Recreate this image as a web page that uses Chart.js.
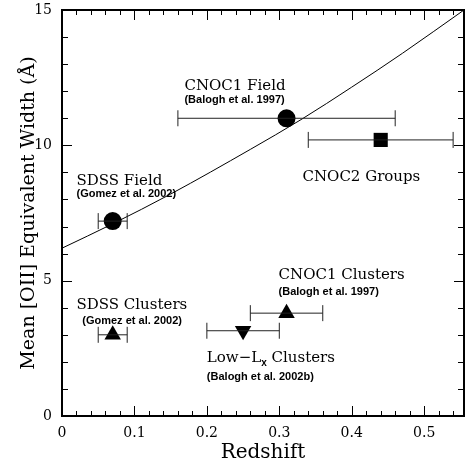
<!DOCTYPE html>
<html>
<head>
<meta charset="utf-8">
<script src="https://cdn.jsdelivr.net/npm/chart.js@4.4.0/dist/chart.umd.min.js"></script>
<style>
  html, body { margin: 0; padding: 0; background: #fff; }
  #wrap { width: 465px; height: 465px; }
</style>
</head>
<body>
<div id="wrap"><canvas id="chart" width="465" height="465"></canvas></div>
<script>
// samples plotted, in drawing order
const samples = ['SDSS Field', 'SDSS Clusters', 'Low-Lx Clusters', 'CNOC1 Clusters', 'CNOC1 Field', 'CNOC2 Groups'];
const redshift = [0.07, 0.07, 0.25, 0.31, 0.31, 0.44];
const zLow = [0.05, 0.05, 0.20, 0.26, 0.16, 0.34];
const zHigh = [0.09, 0.09, 0.30, 0.36, 0.46, 0.54];
const ewOII = [7.2, 3.0, 3.15, 3.8, 11.0, 10.2];
const markers = ['circle', 'triangle', 'triangle', 'triangle', 'circle', 'rect'];
const markerRot = [0, 0, 180, 0, 0, 0];
const markerSize = [9, 9.5, 9.5, 9.5, 9, 10];

// model curve
const curveZ = [0, 0.07, 0.15, 0.26, 0.33, 0.40, 0.47, 0.555];
const curveEW = [6.2, 7.1, 8.2, 9.85, 10.95, 12.15, 13.4, 15.0];

const xTicks = [0, 0.1, 0.2, 0.3, 0.4, 0.5];
const yTicks = [0, 5, 10, 15];

// labels: [text, x, y, kind]
const notes = [
  ['CNOC1 Field', 0.169, 12.17, 'big'],
  ['(Balogh et al. 1997)', 0.169, 11.69, 'small'],
  ['CNOC2 Groups', 0.332, 8.84, 'big'],
  ['SDSS Field', 0.02, 8.67, 'big'],
  ['(Gomez et al. 2002)', 0.02, 8.21, 'small'],
  ['SDSS Clusters', 0.02, 4.10, 'big'],
  ['(Gomez et al. 2002)', 0.028, 3.51, 'small'],
  ['CNOC1 Clusters', 0.299, 5.21, 'big'],
  ['(Balogh et al. 1997)', 0.299, 4.59, 'small'],
  ['Low-Lx Clusters', 0.2, 2.14, 'big'],
  ['(Balogh et al. 2002b)', 0.2, 1.44, 'small']
];

const serif = '"DejaVu Serif", serif';
const bigFont = '15px ' + serif;
const smallFont = 'bold 11px "Liberation Sans", Arial, sans-serif';

const frame = {
  id: 'frame',
  afterDatasetsDraw(chart) {
    const ctx = chart.ctx;
    const xs = chart.scales.x, ys = chart.scales.y;
    const a = chart.chartArea;

    // error bars
    ctx.save();
    ctx.strokeStyle = '#222';
    ctx.lineWidth = 1;
    for (let i = 0; i < redshift.length; i++) {
      const y = ys.getPixelForValue(ewOII[i]);
      const x1 = xs.getPixelForValue(zLow[i]);
      const x2 = xs.getPixelForValue(zHigh[i]);
      ctx.beginPath();
      ctx.moveTo(x1, y); ctx.lineTo(x2, y);
      ctx.moveTo(x1, y - 8); ctx.lineTo(x1, y + 8);
      ctx.moveTo(x2, y - 8); ctx.lineTo(x2, y + 8);
      ctx.stroke();
    }
    ctx.restore();

    // box and inward ticks
    ctx.save();
    ctx.strokeStyle = '#000';
    ctx.lineWidth = 2;
    ctx.strokeRect(a.left, a.top, a.right - a.left, a.bottom - a.top);
    ctx.lineWidth = 1;
    ctx.beginPath();
    for (let k = 0; k <= 27; k++) {
      const v = k * 0.02;
      const len = k % 5 === 0 ? 10 : 5;
      const x = Math.round(xs.getPixelForValue(v)) + 0.5;
      ctx.moveTo(x, a.bottom); ctx.lineTo(x, a.bottom - len);
      ctx.moveTo(x, a.top); ctx.lineTo(x, a.top + len);
    }
    for (let k = 0; k <= 15; k++) {
      const len = k % 5 === 0 ? 10 : 6;
      const y = Math.round(ys.getPixelForValue(k)) + 0.5;
      ctx.moveTo(a.left, y); ctx.lineTo(a.left + len, y);
      ctx.moveTo(a.right, y); ctx.lineTo(a.right - len, y);
    }
    ctx.stroke();
    ctx.restore();

    // text labels
    ctx.save();
    ctx.fillStyle = '#000';
    ctx.textBaseline = 'middle';
    ctx.textAlign = 'left';
    notes.forEach(n => {
      let x = xs.getPixelForValue(n[1]);
      const y = ys.getPixelForValue(n[2]);
      ctx.font = n[3] === 'big' ? bigFont : smallFont;
      if (n[0].indexOf('Low-Lx') === 0) {
        ctx.fillText('Low\u2212L', x, y);
        x += ctx.measureText('Low\u2212L').width;
        ctx.font = 'bold 10px "Liberation Sans", sans-serif';
        ctx.fillText('x', x, y + 5);
        x += ctx.measureText('x').width;
        ctx.font = bigFont;
        ctx.fillText(' Clusters', x, y);
      } else {
        ctx.fillText(n[0], x, y);
      }
    });
    ctx.restore();
  }
};

const pointSets = samples.map((s, i) => ({
  type: 'scatter',
  label: s,
  data: [{ x: redshift[i], y: ewOII[i] }],
  pointStyle: markers[i],
  rotation: markerRot[i],
  pointRadius: markerSize[i],
  backgroundColor: '#000',
  borderColor: '#000',
  borderWidth: 0
}));

new Chart(document.getElementById('chart'), {
  type: 'scatter',
  data: {
    datasets: [{
      type: 'line',
      label: 'model',
      data: curveZ.map((z, i) => ({ x: z, y: curveEW[i] })),
      borderColor: '#000',
      borderWidth: 1,
      pointRadius: 0,
      cubicInterpolationMode: 'monotone',
      fill: false
    }].concat(pointSets)
  },
  options: {
    responsive: false,
    animation: false,
    events: [],
    layout: { autoPadding: false, padding: { top: 10, right: 1, left: 0, bottom: 0 } },
    plugins: { legend: { display: false }, tooltip: { enabled: false } },
    scales: {
      x: {
        type: 'linear',
        min: 0,
        max: 0.555,
        afterFit(s) { s.height = 49; s.paddingLeft = 0; s.paddingRight = 0; },
        afterBuildTicks(s) { s.ticks = xTicks.map(v => ({ value: v })); },
        grid: { display: false, drawTicks: false },
        border: { display: false },
        ticks: {
          color: '#000',
          font: { family: serif, size: 14 },
          padding: 9,
          maxRotation: 0,
          callback: v => v === 0 ? '0' : v.toFixed(1)
        },
        title: {
          display: true,
          text: 'Redshift',
          color: '#000',
          font: { family: serif, size: 20 },
          padding: { top: 0, bottom: 0 }
        }
      },
      y: {
        min: 0,
        max: 15,
        afterFit(s) { s.width = 62; s.paddingTop = 0; s.paddingBottom = 0; },
        afterBuildTicks(s) { s.ticks = yTicks.map(v => ({ value: v })); },
        grid: { display: false, drawTicks: false },
        border: { display: false },
        ticks: {
          color: '#000',
          font: { family: serif, size: 14 },
          padding: 10
        },
        title: {
          display: true,
          text: 'Mean [OII] Equivalent Width (Å)',
          color: '#000',
          font: { family: serif, size: 19 },
          padding: { top: 18, bottom: 0 }
        }
      }
    }
  },
  plugins: [frame]
});
</script>
</body>
</html>
